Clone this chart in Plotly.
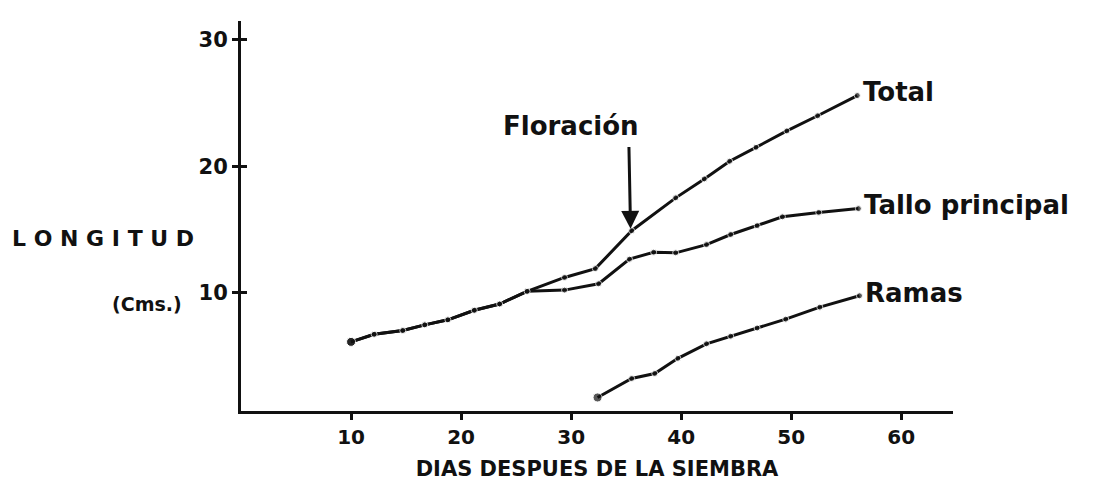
import plotly.graph_objects as go

# ---- data ----
common_x = [10.0, 12.1, 14.7, 16.7, 18.8, 21.2, 23.5, 26.0]
common_y = [6.1, 6.7, 7.0, 7.45, 7.85, 8.6, 9.1, 10.1]

total_x = [29.4, 32.2, 35.5, 39.5, 42.1, 44.4, 46.8, 49.6, 52.4, 56.0]
total_y = [11.2, 11.9, 14.9, 17.5, 19.0, 20.4, 21.5, 22.8, 24.0, 25.6]

tallo_x = [29.4, 32.5, 35.3, 37.5, 39.5, 42.3, 44.5, 46.9, 49.2, 52.5, 56.1]
tallo_y = [10.2, 10.7, 12.65, 13.2, 13.15, 13.8, 14.6, 15.3, 16.0, 16.35, 16.65]

ramas_x = [32.4, 35.5, 37.6, 39.7, 42.3, 44.5, 46.9, 49.5, 52.6, 56.2]
ramas_y = [1.7, 3.2, 3.6, 4.8, 5.95, 6.55, 7.2, 7.9, 8.85, 9.75]

x_ticks = [10, 20, 30, 40, 50, 60]
y_ticks = [10, 20, 30]

series_names = ["Total", "Tallo principal", "Ramas"]
flor_x = 35.4
flor_y = 15.05

FONT = "DejaVu Sans"
INK = "#111111"

fig = go.Figure()

def add_series(xs, ys, name):
    sizes = [6] * len(xs)
    sizes[0] = 9
    fig.add_trace(go.Scatter(
        x=xs, y=ys, mode="lines+markers", name=name,
        line=dict(color=INK, width=3),
        marker=dict(color=INK, size=sizes),
        showlegend=False,
    ))

add_series(common_x + total_x, common_y + total_y, series_names[0])
add_series(common_x + tallo_x, common_y + tallo_y, series_names[1])
add_series(ramas_x, ramas_y, series_names[2])

# helper trace so the mirrored tick axis (inner half of the "+" ticks) is drawn
fig.add_trace(go.Scatter(x=[common_x[0]], y=[common_y[0]], yaxis="y2",
                         mode="markers", marker=dict(opacity=0),
                         showlegend=False, hoverinfo="skip"))

label_font = dict(family=FONT, size=26, color=INK, weight="bold")
for xs, ys, name in [(total_x, total_y, series_names[0]),
                     (tallo_x, tallo_y, series_names[1]),
                     (ramas_x, ramas_y, series_names[2])]:
    fig.add_annotation(x=xs[-1] + 0.3, y=ys[-1] + 0.25, text=name,
                       showarrow=False, xanchor="left", yanchor="middle",
                       font=label_font)

# Floración arrow
fig.add_annotation(x=flor_x, y=flor_y, ax=flor_x - 0.15, ay=flor_y + 6.6,
                   xref="x", yref="y", axref="x", ayref="y",
                   text="", showarrow=True, arrowhead=2, arrowsize=1.2,
                   arrowwidth=3, arrowcolor=INK)
fig.add_annotation(x=30.0, y=23.15, text="Floración", showarrow=False,
                   xanchor="center", yanchor="middle", font=label_font)

# y-axis title (horizontal)
fig.add_annotation(xref="paper", yref="y", x=-0.325, y=14.3,
                   text="L O N G I T U D", showarrow=False,
                   xanchor="left", yanchor="middle",
                   font=dict(family=FONT, size=22, color=INK, weight="bold"))
fig.add_annotation(xref="paper", yref="y", x=-0.08, y=9.1,
                   text="(Cms.)", showarrow=False,
                   xanchor="right", yanchor="middle",
                   font=dict(family=FONT, size=19, color=INK, weight="bold"))

axis_common = dict(
    showgrid=False, zeroline=False, showline=True, linecolor=INK,
    linewidth=3, tickwidth=3, tickcolor=INK,
)

fig.update_layout(
    width=1110, height=482,
    margin=dict(l=233, r=165, t=13, b=77),
    paper_bgcolor="white", plot_bgcolor="white",
    font=dict(family=FONT, color=INK),
    xaxis=dict(
        range=[0, 64.7], tickvals=x_ticks, ticktext=[str(v) for v in x_ticks],
        ticks="outside", ticklen=6,
        tickfont=dict(family=FONT, size=20, color=INK, weight="bold"),
        title=dict(text="DIAS DESPUES DE LA SIEMBRA", standoff=14,
                   font=dict(family=FONT, size=21, color=INK, weight="bold")),
        **axis_common,
    ),
    yaxis=dict(
        range=[0.63, 31.5], tickvals=y_ticks, ticktext=[str(v) for v in y_ticks],
        ticks="outside", ticklen=6,
        tickfont=dict(family=FONT, size=21, color=INK, weight="bold"),
        **axis_common,
    ),
    yaxis2=dict(
        overlaying="y", matches="y", side="left", anchor="x",
        tickvals=y_ticks, ticks="inside", ticklen=6, showticklabels=False,
        **axis_common,
    ),
)

fig.write_html("out.html")
